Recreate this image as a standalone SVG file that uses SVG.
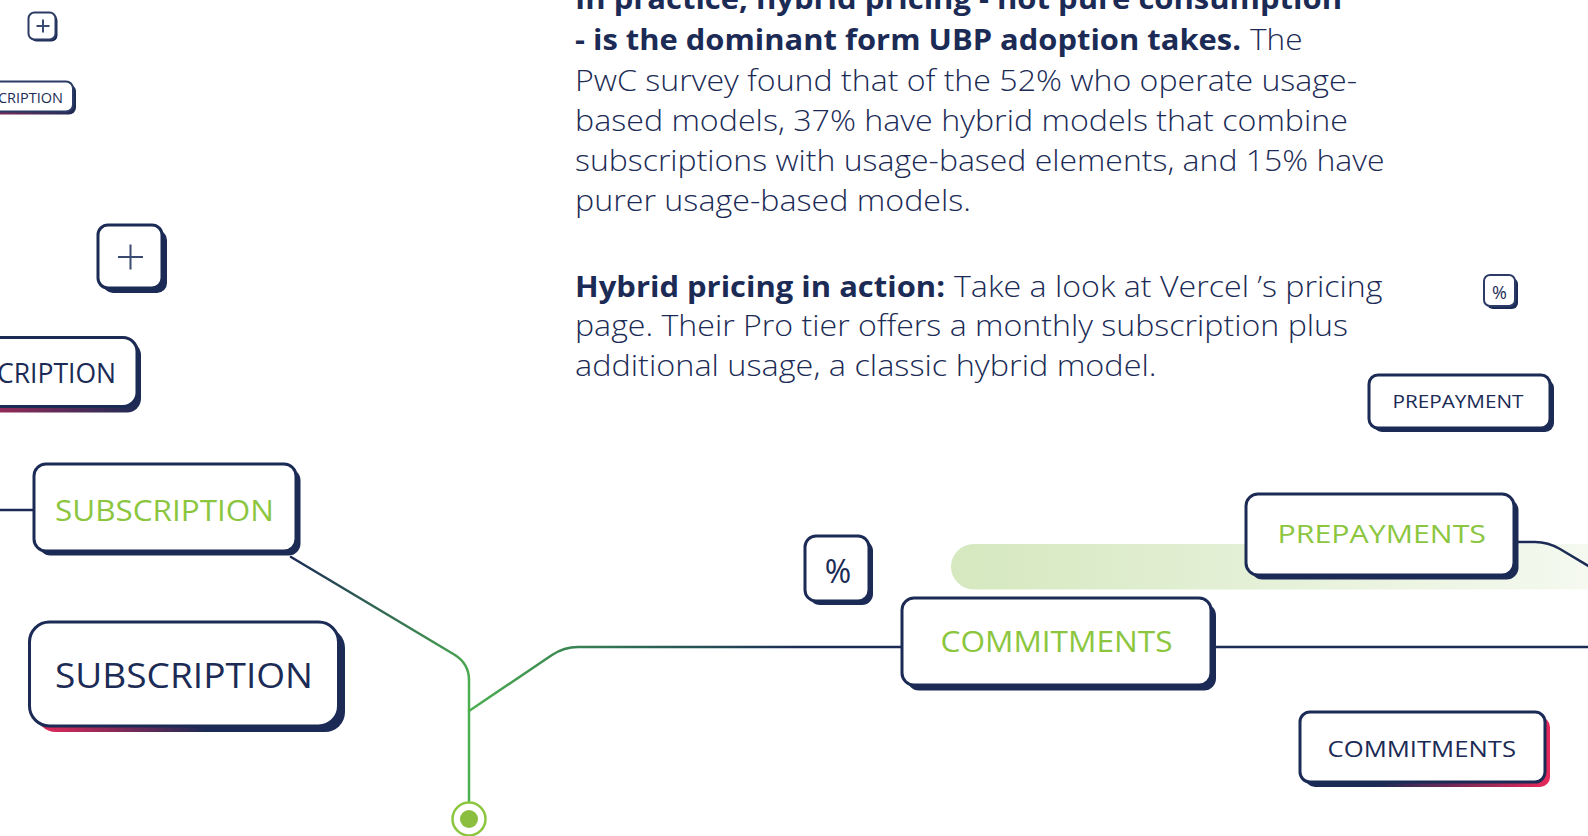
<svg xmlns="http://www.w3.org/2000/svg" width="1588" height="836" viewBox="0 0 1588 836">
<defs>
<style>
.box{fill:#fff;stroke:#1b2b55;stroke-width:3}
.boxs{fill:#fff;stroke:#2c3b66;stroke-width:2}
.sh{fill:#1b2b55}
.lbl{font-family:"Open Sans","Liberation Sans",sans-serif;font-weight:400}
.g{fill:#8cc63f}
.n{fill:#1b2b55}
.body{font-family:"Open Sans","Liberation Sans",sans-serif;font-weight:300;font-size:28.5px;fill:#1b2b55}
.b{font-weight:700}
.con{fill:none;stroke-width:2.5;stroke-linecap:round;stroke-linejoin:round}
.plus{stroke:#3a4a72;stroke-width:2;fill:none}
</style>
<linearGradient id="pinkNavy" x1="0" y1="0" x2="1" y2="0">
<stop offset="0" stop-color="#e8285a"/>
<stop offset="0.55" stop-color="#1b2b55"/>
</linearGradient>
<linearGradient id="pinkNavy2" x1="0" y1="0" x2="1" y2="0">
<stop offset="0" stop-color="#c02b5a"/>
<stop offset="1" stop-color="#1b2b55"/>
</linearGradient>
<linearGradient id="navyPink" x1="0" y1="0" x2="1" y2="0">
<stop offset="0.3" stop-color="#1b2b55"/>
<stop offset="1" stop-color="#e8285a"/>
</linearGradient>
<linearGradient id="bar" x1="951" y1="0" x2="1588" y2="0" gradientUnits="userSpaceOnUse">
<stop offset="0" stop-color="#d5e8bf"/>
<stop offset="1" stop-color="#f5f9f0"/>
</linearGradient>
<linearGradient id="diag" x1="291" y1="557" x2="469" y2="690" gradientUnits="userSpaceOnUse">
<stop offset="0" stop-color="#1b2b55"/>
<stop offset="1" stop-color="#4caf50"/>
</linearGradient>
<linearGradient id="branch" x1="469" y1="0" x2="800" y2="0" gradientUnits="userSpaceOnUse">
<stop offset="0" stop-color="#4caf50"/>
<stop offset="0.5" stop-color="#2d6a55"/>
<stop offset="1" stop-color="#1b2b55"/>
</linearGradient>
</defs>

<rect x="951" y="544" width="660" height="45.5" rx="22.75" fill="url(#bar)"/>

<g id="connectors">
<path class="con" stroke="#1b2b55" d="M0 510 L34 510"/>
<path class="con" stroke="url(#diag)" d="M291 557 L455 655 Q469 664 469 680 L469 801"/>
<path class="con" stroke="url(#branch)" d="M469 711 L552 655 Q564 647 578 647 L902 647"/>
<path class="con" stroke="#1b2b55" d="M1211 647 L1590 647"/>
<path class="con" stroke="#1b2b55" d="M1514 542 L1535 542 Q1548 542 1560 549 L1590 567"/>
</g>

<g id="start-dot">
<circle cx="469" cy="819" r="16.5" fill="#fff" stroke="#8cc63f" stroke-width="2.5"/>
<circle cx="469" cy="819" r="9" fill="#8bbd3f"/>
</g>

<g id="plus-small">
<rect class="sh" x="30.5" y="14.5" width="27" height="27" rx="6"/>
<rect class="boxs" x="28.5" y="12.5" width="27" height="27" rx="6"/>
<path class="plus" stroke-width="1.3" d="M36.5 26 H49.5 M43 19.5 V32.5"/>
</g>

<g id="cription-small">
<rect x="-57" y="84.5" width="133" height="30" rx="7" fill="url(#pinkNavy2)"/>
<rect class="boxs" x="-60" y="81.5" width="133" height="30" rx="7"/>
<text class="lbl n" x="-2" y="103" font-size="14" textLength="65" lengthAdjust="spacingAndGlyphs">CRIPTION</text>
</g>

<g id="plus-medium">
<rect class="sh" x="103" y="230" width="64" height="63" rx="10"/>
<rect class="box" x="98" y="225" width="64" height="63" rx="10" stroke-width="2.5"/>
<path class="plus" d="M118 257 H143 M130.5 244.5 V269.5"/>
</g>

<g id="cription-large">
<rect x="-54" y="341.5" width="195" height="71" rx="14" fill="url(#pinkNavy2)"/>
<rect class="box" x="-58" y="337.5" width="195" height="69" rx="14"/>
<text class="lbl n" x="-3" y="383" font-size="28" textLength="119" lengthAdjust="spacingAndGlyphs">CRIPTION</text>
</g>

<g id="subscription-green">
<rect class="sh" x="38.5" y="468.5" width="262" height="87" rx="12"/>
<rect class="box" x="34" y="464" width="262" height="87" rx="12"/>
<text class="lbl g" x="55" y="521" font-size="28.5" textLength="219" lengthAdjust="spacingAndGlyphs">SUBSCRIPTION</text>
</g>

<g id="subscription-navy">
<rect x="36" y="628" width="309" height="104" rx="20" fill="url(#pinkNavy)"/>
<rect class="box" x="29.5" y="622" width="309" height="104" rx="20" stroke-width="3.5"/>
<text class="lbl n" x="55" y="688" font-size="35" textLength="258" lengthAdjust="spacingAndGlyphs">SUBSCRIPTION</text>
</g>

<g id="percent-medium">
<rect class="sh" x="809" y="540" width="64" height="65" rx="11"/>
<rect class="box" x="805" y="536" width="64" height="65" rx="11" stroke-width="2.5"/>
<text class="lbl n" x="838" y="583" font-size="32" text-anchor="middle" font-weight="300">%</text>
</g>

<g id="commitments-green">
<rect class="sh" x="907" y="603.5" width="309" height="87" rx="12"/>
<rect class="box" x="902" y="598" width="309" height="87" rx="12"/>
<text class="lbl g" x="940.5" y="652" font-size="29" textLength="232" lengthAdjust="spacingAndGlyphs">COMMITMENTS</text>
</g>

<g id="prepayments-green">
<rect class="sh" x="1250.5" y="498.5" width="268" height="81" rx="12"/>
<rect class="box" x="1246" y="494" width="268" height="81" rx="12"/>
<text class="lbl g" x="1277.5" y="542.5" font-size="26" textLength="208.5" lengthAdjust="spacingAndGlyphs">PREPAYMENTS</text>
</g>

<g id="commitments-navy">
<rect x="1305" y="717" width="245" height="70" rx="10" fill="url(#navyPink)"/>
<rect class="box" x="1300" y="712" width="245" height="70" rx="10"/>
<text class="lbl n" x="1327.5" y="756.5" font-size="22.5" textLength="188.5" lengthAdjust="spacingAndGlyphs">COMMITMENTS</text>
</g>

<g id="percent-small">
<rect class="sh" x="1487" y="278" width="31" height="31" rx="6"/>
<rect class="boxs" x="1484" y="275" width="31" height="31" rx="6"/>
<text class="lbl n" x="1499.5" y="298.5" font-size="18" text-anchor="middle" font-weight="300">%</text>
</g>

<g id="prepayment-navy">
<rect class="sh" x="1373" y="379" width="181" height="53" rx="9"/>
<rect class="box" x="1369" y="375" width="181" height="53" rx="9"/>
<text class="lbl n" x="1392.5" y="408" font-size="18.5" textLength="131" lengthAdjust="spacingAndGlyphs">PREPAYMENT</text>
</g>

<g id="text-block">
<text class="body b" x="575" y="9" textLength="767" lengthAdjust="spacingAndGlyphs">In practice, hybrid pricing - not pure consumption</text>
<text class="body b" x="575" y="49.5" textLength="666" lengthAdjust="spacingAndGlyphs">- is the dominant form UBP adoption takes.</text>
<text class="body" x="1250" y="49.5" textLength="52.5" lengthAdjust="spacingAndGlyphs">The</text>
<text class="body" x="575" y="90.5" textLength="782" lengthAdjust="spacingAndGlyphs">PwC survey found that of the 52% who operate usage-</text>
<text class="body" x="575" y="130.5" textLength="773" lengthAdjust="spacingAndGlyphs">based models, 37% have hybrid models that combine</text>
<text class="body" x="575" y="170.5" textLength="809.5" lengthAdjust="spacingAndGlyphs">subscriptions with usage-based elements, and 15% have</text>
<text class="body" x="575" y="210.5" textLength="396" lengthAdjust="spacingAndGlyphs">purer usage-based models.</text>
<text class="body b" x="575" y="296.5" textLength="370" lengthAdjust="spacingAndGlyphs">Hybrid pricing in action:</text>
<text class="body" x="954" y="296.5" textLength="428.5" lengthAdjust="spacingAndGlyphs">Take a look at Vercel ’s pricing</text>
<text class="body" x="575" y="336" textLength="773" lengthAdjust="spacingAndGlyphs">page. Their Pro tier offers a monthly subscription plus</text>
<text class="body" x="575" y="375.5" textLength="581.5" lengthAdjust="spacingAndGlyphs">additional usage, a classic hybrid model.</text>
</g>
</svg>
